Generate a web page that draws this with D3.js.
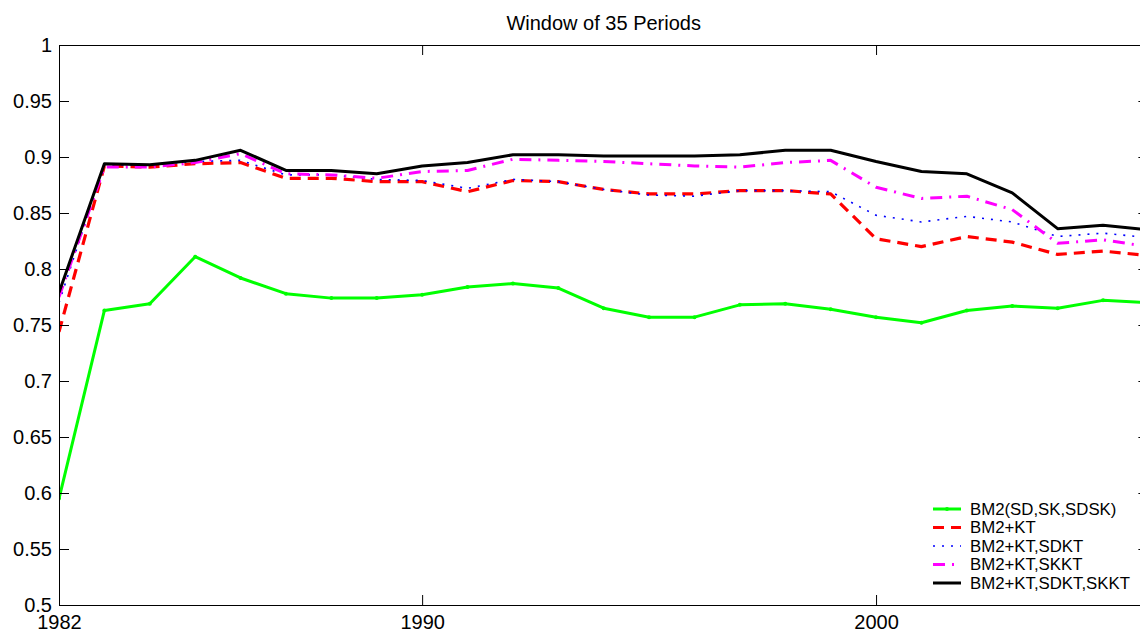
<!DOCTYPE html>
<html>
<head>
<meta charset="utf-8">
<script src="https://cdn.jsdelivr.net/npm/d3@7"></script>
<style>
  html, body { margin: 0; padding: 0; background: #fff; }
  svg { display: block; font-family: "Liberation Sans", Arial, Helvetica, sans-serif; }
</style>
</head>
<body>
<svg id="chart" width="1140" height="634"></svg>
<script>
const title = "Window of 35 Periods";
const years = [1982,1983,1984,1985,1986,1987,1988,1989,1990,1991,1992,1993,1994,1995,1996,1997,1998,1999,2000,2001,2002,2003,2004,2005,2006];
const seriesNames = ["BM2(SD,SK,SDSK)", "BM2+KT", "BM2+KT,SDKT", "BM2+KT,SKKT", "BM2+KT,SDKT,SKKT"];
const bm2 =        [0.595,0.763,0.769,0.811,0.792,0.778,0.774,0.774,0.777,0.784,0.787,0.783,0.765,0.757,0.757,0.768,0.769,0.764,0.757,0.752,0.763,0.767,0.765,0.772,0.770];
const bm2kt =      [0.744,0.892,0.891,0.894,0.895,0.881,0.881,0.878,0.878,0.869,0.879,0.878,0.871,0.867,0.867,0.870,0.870,0.867,0.827,0.820,0.829,0.824,0.813,0.816,0.812];
const bm2ktSdkt =  [0.770,0.893,0.893,0.896,0.897,0.884,0.884,0.880,0.879,0.872,0.880,0.878,0.871,0.866,0.865,0.870,0.870,0.869,0.848,0.842,0.847,0.842,0.829,0.832,0.828];
const bm2ktSkkt =  [0.775,0.891,0.891,0.895,0.903,0.885,0.884,0.881,0.887,0.888,0.898,0.897,0.896,0.894,0.892,0.891,0.895,0.897,0.873,0.863,0.865,0.853,0.823,0.826,0.820];
const bm2ktAll =   [0.779,0.894,0.893,0.897,0.906,0.888,0.888,0.885,0.892,0.895,0.902,0.902,0.901,0.901,0.901,0.902,0.906,0.906,0.896,0.887,0.885,0.868,0.836,0.839,0.835];
const xTicks = [1982, 1990, 2000];
const yTicks = [0.5,0.55,0.6,0.65,0.7,0.75,0.8,0.85,0.9,0.95,1];
const yTickLabels = ["0.5","0.55","0.6","0.65","0.7","0.75","0.8","0.85","0.9","0.95","1"];

const styles = [
  {color:"#00ff00", width:3, dash:null, marker:true},
  {color:"#ff0000", width:3.2, dash:"11,7"},
  {color:"#0000ff", width:1.6, dash:"2,7"},
  {color:"#ff00ff", width:3, dash:"12,7,2,7"},
  {color:"#000000", width:3, dash:null}
];
const allSeries = [bm2, bm2kt, bm2ktSdkt, bm2ktSkkt, bm2ktAll];

const svg = d3.select("#chart");
svg.append("rect").attr("width",1140).attr("height",634).attr("fill","#fff");

const pLeft = 59, pRight = 1148.4, pTop = 45, pBottom = 605;
const x = d3.scaleLinear().domain([1982, 2006]).range([pLeft, pRight]);
const y = d3.scaleLinear().domain([0.5, 1]).range([pBottom, pTop]);

svg.append("defs").append("clipPath").attr("id","clip")
  .append("rect").attr("x",pLeft).attr("y",pTop).attr("width",pRight-pLeft).attr("height",pBottom-pTop);

// Title
svg.append("text").attr("x",(pLeft+pRight)/2).attr("y",30).attr("text-anchor","middle")
  .attr("font-size",20).attr("fill","#000").text(title);

// Lines
const plot = svg.append("g").attr("clip-path","url(#clip)");
allSeries.forEach((vals, i) => {
  const st = styles[i];
  const line = d3.line().x((d,j)=>x(years[j])).y(d=>y(d));
  const p = plot.append("path").datum(vals).attr("d", line)
    .attr("fill","none").attr("stroke",st.color).attr("stroke-width",st.width)
    .attr("stroke-linejoin","round");
  if (st.dash) p.attr("stroke-dasharray", st.dash);
  if (st.marker) {
    plot.selectAll(null).data(vals).enter().append("circle")
      .attr("cx",(d,j)=>x(years[j])).attr("cy",d=>y(d)).attr("r",2).attr("fill",st.color);
  }
});

// Axes
const axL = d3.axisLeft(y).tickValues(yTicks).tickFormat((d,i)=>yTickLabels[i]).tickSizeInner(-10).tickSizeOuter(0).tickPadding(7);
const axR = d3.axisRight(y).tickValues(yTicks).tickFormat("").tickSizeInner(-10).tickSizeOuter(0);
const axB = d3.axisBottom(x).tickValues(xTicks).tickFormat(d3.format("d")).tickSizeInner(-10).tickSizeOuter(0).tickPadding(10);
const axT = d3.axisTop(x).tickValues(xTicks).tickFormat("").tickSizeInner(-10).tickSizeOuter(0);

function style(g){
  g.selectAll("path,line").attr("stroke","#000").attr("stroke-width",1);
  g.selectAll("text").attr("font-size",20).attr("fill","#000").attr("font-family","Liberation Sans, Arial, sans-serif");
}
svg.append("g").attr("transform",`translate(${pLeft},0)`).call(axL).call(style);
svg.append("g").attr("transform",`translate(${pRight},0)`).call(axR).call(style);
svg.append("g").attr("transform",`translate(0,${pBottom})`).call(axB).call(style);
svg.append("g").attr("transform",`translate(0,${pTop})`).call(axT).call(style);

// Legend
const legY0 = 509, legDy = 18.5;
const leg = svg.append("g");
seriesNames.forEach((name, i) => {
  const st = styles[i];
  const yy = legY0 + i*legDy;
  const l = leg.append("line").attr("x1",933).attr("x2",961).attr("y1",yy).attr("y2",yy)
    .attr("stroke",st.color).attr("stroke-width",st.width);
  if (st.dash) l.attr("stroke-dasharray", st.dash);
  if (st.marker) leg.append("circle").attr("cx",947).attr("cy",yy).attr("r",2).attr("fill",st.color);
  leg.append("text").attr("x",970).attr("y",yy).attr("dy","0.35em").attr("font-size",16.8)
    .attr("fill","#000").text(name);
});
</script>
</body>
</html>
